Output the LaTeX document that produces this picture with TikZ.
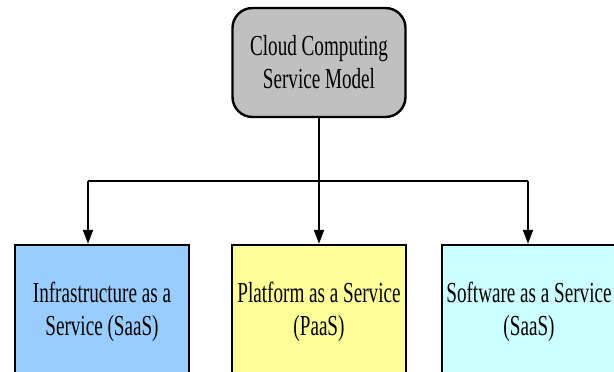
\documentclass[tikz,border=0pt]{standalone}
\usepackage{fontspec}
\setmainfont{Liberation Serif}[FakeStretch=0.66]
\usetikzlibrary{arrows.meta}

\definecolor{rootgray}{RGB}{192,192,192}
\definecolor{iaasblue}{RGB}{153,204,255}
\definecolor{paasyellow}{RGB}{255,255,153}
\definecolor{saascyan}{RGB}{204,255,255}

\tikzset{
  modelbox/.style={draw=black, line width=2.4pt, align=center,
    inner sep=0pt, font=\fontsize{29}{33}\selectfont},
  rootbox/.style={modelbox, fill=rootgray, rounded corners=20pt,
    minimum width=173pt, minimum height=109pt},
  tierbox/.style={modelbox, minimum width=174pt, minimum height=134pt},
  link/.style={line width=2pt, draw=black},
  arrowlink/.style={link, -{Triangle[length=14pt,width=10pt]}}
}

\begin{document}
\begin{tikzpicture}[x=1pt, y=-1pt]
  \clip (0,0) rectangle (614,372);
  \fill[white] (0,0) rectangle (614,372);

  % root of the hierarchy
  \node[rootbox] (cloud) at (319,62.5) {Cloud Computing\\Service Model};

  % the three service tiers
  \node[tierbox, fill=iaasblue]   (iaas) at (102,312) {Infrastructure as a\\Service (SaaS)};
  \node[tierbox, fill=paasyellow] (paas) at (319,312) {Platform as a Service\\(PaaS)};
  \node[tierbox, fill=saascyan]   (saas) at (529,312) {Software as a Service\\(SaaS)};

  % distribution bus
  \coordinate (busL) at (88,181);
  \coordinate (busR) at (528,181);

  \draw[link] (busL) -- (busR);
  \draw[arrowlink] (cloud.south) -- (paas.north);
  \draw[arrowlink] (busL) -- (busL |- iaas.north);
  \draw[arrowlink] (busR) -- (busR |- saas.north);
\end{tikzpicture}
\end{document}
